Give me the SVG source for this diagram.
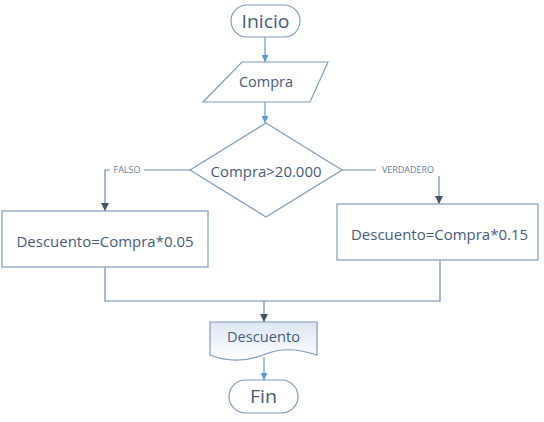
<svg xmlns="http://www.w3.org/2000/svg" width="544" height="422" viewBox="0 0 544 422">
<defs>
<style>
.shape{fill:#fff;stroke:#7f9cbd;stroke-width:1.2}
.t{font-family:"Open Sans","Liberation Sans",sans-serif;fill:#455d7c;text-anchor:middle}
.lab{font-family:"Open Sans","Liberation Sans",sans-serif;fill:#6b7f99;font-size:9px;text-anchor:middle}
.c1{fill:none;stroke:#5b9bd5;stroke-width:1.2}
.c2{fill:none;stroke:#6a8bb0;stroke-width:1.2}
</style>
<marker id="a1" viewBox="0 0 10 10" refX="10" refY="5" markerWidth="7" markerHeight="7" markerUnits="userSpaceOnUse" orient="auto"><path d="M0,0 L10,5 L0,10 z" fill="#5b9bd5"/></marker>
<marker id="a2" viewBox="0 0 10 10" refX="10" refY="5" markerWidth="8" markerHeight="8" markerUnits="userSpaceOnUse" orient="auto"><path d="M0,0 L10,5 L0,10 z" fill="#44546a"/></marker>
<linearGradient id="g" x1="0" y1="0" x2="0" y2="1"><stop offset="0" stop-color="#dbe6f3"/><stop offset="1" stop-color="#ffffff"/></linearGradient>
</defs>
<g id="connectors">
<path class="c1" d="M265,37 V62" marker-end="url(#a1)"/>
<path class="c1" d="M265,102 V123" marker-end="url(#a1)"/>
<path class="c2" d="M190,170 H105 V211" marker-end="url(#a2)"/>
<path class="c2" d="M342,170 H439 V204" marker-end="url(#a2)"/>
<path class="c2" d="M105,267 V301 H440 V260"/>
<path class="c2" d="M264,301 V322" marker-end="url(#a2)"/>
<path class="c1" d="M264,357 V380" marker-end="url(#a1)"/>
<rect x="110" y="164" width="34" height="12" fill="#fff"/>
<text class="lab" x="127" y="173">FALSO</text>
<rect x="376" y="164" width="64" height="12" fill="#fff"/>
<text class="lab" x="408" y="173">VERDADERO</text>
</g>
<g id="inicio">
<rect class="shape" x="231" y="5" width="69" height="32" rx="16"/>
<text class="t" x="265.5" y="28" font-size="19" textLength="48" lengthAdjust="spacingAndGlyphs">Inicio</text>
</g>
<g id="compra">
<path class="shape" d="M242,62 H328 L310,102 H203 Z"/>
<text class="t" x="266" y="87" font-size="14" textLength="54" lengthAdjust="spacingAndGlyphs">Compra</text>
</g>
<g id="decision">
<path class="shape" d="M266,123 L342,170 L266,217 L190,170 Z"/>
<text class="t" x="266" y="177" font-size="15" textLength="111" lengthAdjust="spacingAndGlyphs">Compra&gt;20.000</text>
</g>
<g id="desc005">
<rect class="shape" x="2" y="211" width="206" height="56"/>
<text class="t" x="105" y="246.5" font-size="15" textLength="177" lengthAdjust="spacingAndGlyphs">Descuento=Compra*0.05</text>
</g>
<g id="desc015">
<rect class="shape" x="337" y="204" width="201" height="56"/>
<text class="t" x="439.5" y="240" font-size="15" textLength="177" lengthAdjust="spacingAndGlyphs">Descuento=Compra*0.15</text>
</g>
<g id="descuento">
<path d="M210,322 H317 V355 C295,348 280,348 263,355 C245,362 228,362 210,355 Z" fill="url(#g)" stroke="#7f9cbd" stroke-width="1.2"/>
<text class="t" x="263.5" y="342" font-size="14" textLength="73" lengthAdjust="spacingAndGlyphs">Descuento</text>
</g>
<g id="fin">
<rect class="shape" x="229" y="380" width="69" height="33" rx="16.5"/>
<text class="t" x="263.5" y="403" font-size="19" textLength="27" lengthAdjust="spacingAndGlyphs">Fin</text>
</g>
</svg>
